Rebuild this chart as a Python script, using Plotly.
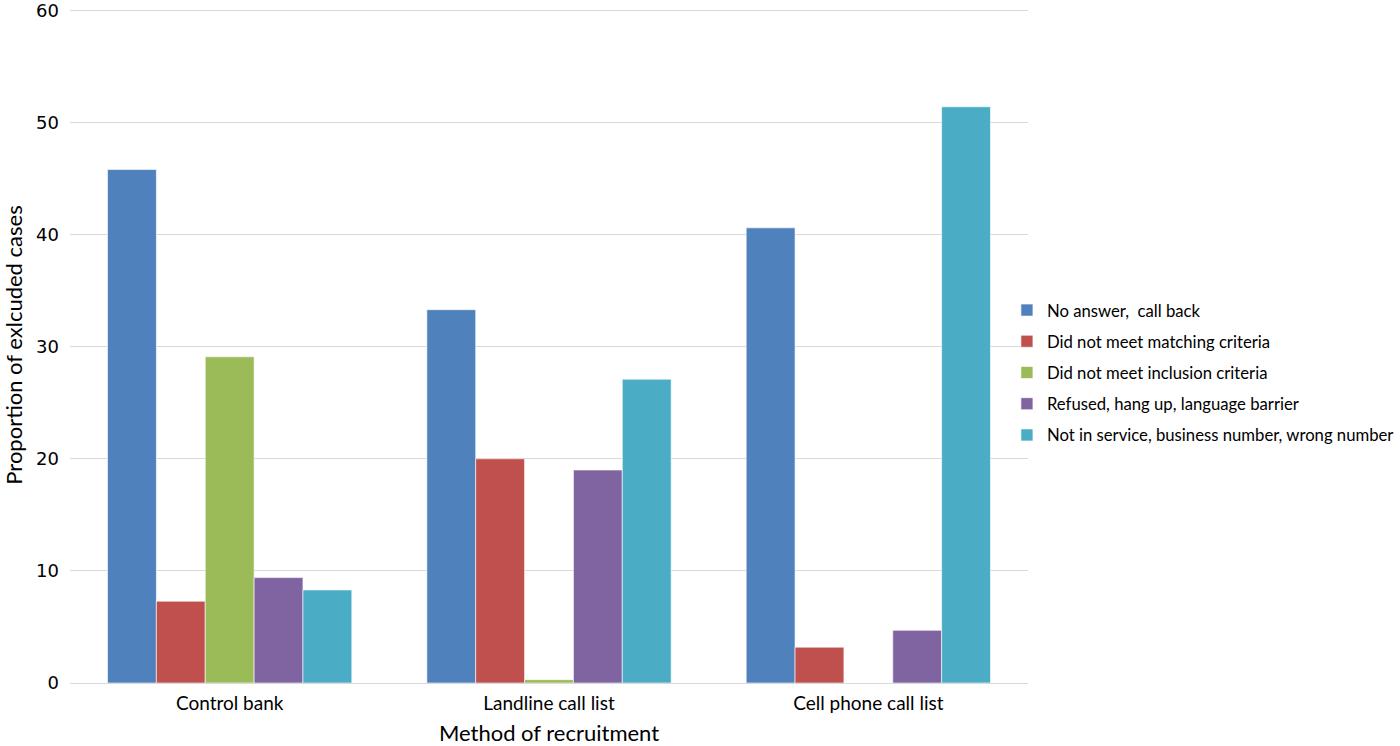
import plotly.graph_objects as go

categories = ["Control bank", "Landline call list", "Cell phone call list"]
series_names = [
    "No answer,  call back",
    "Did not meet matching criteria",
    "Did not meet inclusion criteria",
    "Refused, hang up, language barrier",
    "Not in service, business number, wrong number",
]
no_answer = [45.8, 33.3, 40.6]
matching = [7.3, 20.0, 3.2]
inclusion = [29.1, 0.3, 0.0]
refused = [9.4, 19.0, 4.7]
not_in_service = [8.3, 27.1, 51.4]
values = [no_answer, matching, inclusion, refused, not_in_service]
colors = ["#4F81BD", "#C0504D", "#9BBB59", "#8064A2", "#4BACC6"]
y_ticks = [0, 10, 20, 30, 40, 50, 60]

FONT = "Lato, Open Sans, sans-serif"

fig = go.Figure()
for i, (name, vals, col) in enumerate(zip(series_names, values, colors)):
    fig.add_trace(go.Bar(
        x=categories, y=vals, name=name, legendgroup=str(i),
        marker=dict(color=col, line=dict(color="rgba(255,255,255,0.6)", width=1)),
    ))

fig.update_layout(
    width=1400, height=746,
    paper_bgcolor="white", plot_bgcolor="white",
    barmode="group", bargap=0.235, bargroupgap=0,
    margin=dict(l=70, r=372, t=7, b=63, autoexpand=False),
    font=dict(family=FONT, color="#000000", size=17),
    legend=dict(
        x=0.978, xanchor="left", y=0.459, yanchor="middle",
        font=dict(family=FONT, size=16.7, color="#000000"),
        tracegroupgap=6.5, itemwidth=30, bgcolor="rgba(0,0,0,0)",
    ),
    showlegend=True,
)
fig.update_xaxes(
    showgrid=False, showline=False, ticks="", automargin=False,
    tickfont=dict(family=FONT, size=19), ticklabelstandoff=7,
    title=dict(text="Method of recruitment", font=dict(family=FONT, size=22), standoff=12),
)
fig.update_yaxes(
    range=[0, 60.3], tickvals=y_ticks, showgrid=True,
    gridcolor="#D9D9D9", gridwidth=1, automargin=False, ticklabeloverflow="allow",
    zeroline=True, zerolinecolor="#D9D9D9", zerolinewidth=1, showline=False,
    tickfont=dict(family="DejaVu Sans, Verdana, sans-serif", size=18),
    ticklabelstandoff=10,
    title=dict(text="Proportion of exlcuded cases", font=dict(family=FONT, size=22), standoff=12),
)

fig.write_html("out.html", config={"displayModeBar": False},
               post_script="document.body.style.margin='0';")
